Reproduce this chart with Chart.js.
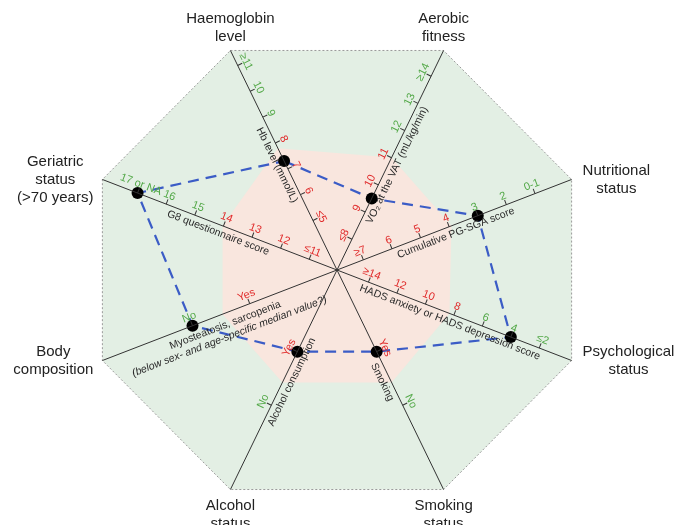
<!DOCTYPE html>
<html>
<head>
<meta charset="utf-8">
<script src="https://cdn.jsdelivr.net/npm/chart.js@4.4.1/dist/chart.umd.min.js"></script>
<style>
  html, body { margin: 0; padding: 0; background: #fff; }
</style>
</head>
<body>
<canvas id="graficaRadar" width="674" height="525"></canvas>
<script>
// ejes en sentido horario, empezando por Haemoglobin
const categorias = [
    ['Haemoglobin', 'level'], ['Aerobic', 'fitness'], ['Nutritional', 'status'],
    ['Psychological', 'status'], ['Smoking', 'status'], ['Alcohol', 'status'],
    ['Body', 'composition'], ['Geriatric', 'status', '(>70 years)']
];
const titulosEje = [
    ['Hb level (mmol/L)'], ['VO₂ at the VAT (mL/kg/min)'], ['Cumulative PG-SGA score'],
    ['HADS anxiety or HADS depression score'], ['Smoking'], ['Alcohol consumption'],
    ['Myosteatosis, sarcopenia', '(below sex- and age-specific median value?)'],
    ['G8 questionnaire score']
];

// etiquetas de cada eje, del centro hacia fuera
const ticksHb = ['≤5', '6', '7', '8', '9', '10', '≥11'];
const ticksVO2 = ['≤8', '9', '10', '11', '12', '13', '≥14'];
const ticksPGSGA = ['≥7', '6', '5', '4', '3', '2', '0-1'];
const ticksHADS = ['≥14', '12', '10', '8', '6', '4', '≤2'];
const ticksSmoking = ['Yes', 'No'];
const ticksAlcohol = ['Yes', 'No'];
const ticksBody = ['Yes', 'No'];
const ticksG8 = ['≤11', '12', '13', '14', '15', '16', '17 or NA'];
const ticksPorEje = [ticksHb, ticksVO2, ticksPGSGA, ticksHADS, ticksSmoking, ticksAlcohol, ticksBody, ticksG8];
// cuántas etiquetas de cada eje van en rojo (el resto en verde)
const ticksRojos = [4, 4, 4, 4, 1, 1, 1, 4];

// valores del paciente
const paciente = [7.3, 9.5, 3, 4, 'Yes', 'Yes', 'No', '17 or NA'];
// borde de la zona rosa, en unidades de la escala radial
const limiteNormal = [4.55, 4.2, 4.0, 3.93, 4.2, 4.2, 4.0, 4.0];

// geometría
const MAX_R = 8.2;
const ANGULOS = [-25.9, 25.9, 68.9, 111.1, 154.1, 205.9, 248.9, 291.1];
const ESCALA_EJE = [0.984, 0.984, 1.014, 1.014, 0.984, 0.984, 1.014, 1.014];
const POS_TICKS = [[1.85, 0.965], [1.15, 1.015], [0.92, 1.0], [1.1, 0.995], [3.05, 2.0], [3.05, 2.0], [3.05, 2.0], [0.97, 1.0]];
const ROJO = '#e02a2a';
const VERDE = '#52a847';
const FUENTE = '"Liberation Sans", Arial, sans-serif';

function posicionEnEje(i, valor) {
    const ticks = ticksPorEje[i];
    let idx = ticks.indexOf(String(valor));
    if (idx < 0) {
        const nums = ticks.map(t => parseFloat(t.replace(/[^0-9.]/g, '')));
        for (let k = 0; k < nums.length - 1; k++) {
            const a = nums[k], b = nums[k + 1];
            if ((valor - a) * (valor - b) <= 0) { idx = k + (valor - a) / (b - a); break; }
        }
    }
    return POS_TICKS[i][0] + idx * POS_TICKS[i][1];
}

// escala radial con ángulos propios por eje
class RadarOctogonal extends Chart.RadialLinearScale {
    getIndexAngle(index) {
        return ((ANGULOS[index] % 360 + 360) % 360) * Math.PI / 180;
    }
    getPointPosition(index, distance, extra = 0) {
        return super.getPointPosition(index, distance * ESCALA_EJE[index], extra);
    }
}
RadarOctogonal.id = 'radarOctogonal';
RadarOctogonal.defaults = Chart.RadialLinearScale.defaults;
Chart.register(RadarOctogonal);

const dibujoEjes = {
    id: 'dibujoEjes',
    beforeDraw(chart) {
        const r = chart.scales.r, ctx = chart.ctx;
        ctx.save();
        ctx.beginPath();
        categorias.forEach((c, i) => {
            const p = r.getPointPositionForValue(i, MAX_R);
            if (i) ctx.lineTo(p.x, p.y); else ctx.moveTo(p.x, p.y);
        });
        ctx.closePath();
        ctx.fillStyle = '#e3efe4';
        ctx.fill();
        ctx.restore();
    },
    afterDraw(chart) {
        const r = chart.scales.r, ctx = chart.ctx;
        ctx.save();
        for (let i = 0; i < categorias.length; i++) {
            const fuera = r.getPointPositionForValue(i, MAX_R);
            const dx = Math.cos(fuera.angle), dy = Math.sin(fuera.angle);
            const rot = dx < 0 ? Math.atan2(-dy, -dx) : Math.atan2(dy, dx);

            // marcas y etiquetas del eje
            ticksPorEje[i].forEach((t, k) => {
                const p = r.getPointPositionForValue(i, POS_TICKS[i][0] + k * POS_TICKS[i][1]);
                ctx.save();
                ctx.translate(p.x, p.y);
                ctx.rotate(rot);
                ctx.strokeStyle = '#333';
                ctx.lineWidth = 1;
                ctx.beginPath();
                ctx.moveTo(0, 0);
                ctx.lineTo(0, -5);
                ctx.stroke();
                ctx.fillStyle = k < ticksRojos[i] ? ROJO : VERDE;
                ctx.font = '11px ' + FUENTE;
                ctx.textAlign = 'center';
                ctx.textBaseline = 'alphabetic';
                ctx.fillText(t, 0, -6);
                ctx.restore();
            });

            // título sobre el eje
            const pt = r.getPointPositionForValue(i, 4.05);
            ctx.save();
            ctx.translate(pt.x, pt.y);
            ctx.rotate(rot);
            ctx.fillStyle = '#2a2a2a';
            ctx.textAlign = 'center';
            ctx.textBaseline = 'top';
            titulosEje[i].forEach((linea, n) => {
                ctx.font = (n > 0 ? 'italic ' : '') + '10.5px ' + FUENTE;
                ctx.fillText(linea, 0, (titulosEje[i].length > 1 ? 6 : 3) + n * 12);
            });
            ctx.restore();

            // nombre de la categoría
            const lineas = categorias[i];
            const lh = 18;
            ctx.font = '15px ' + FUENTE;
            ctx.fillStyle = '#222';
            ctx.textAlign = 'center';
            ctx.textBaseline = 'middle';
            const ancho = Math.max(...lineas.map(l => ctx.measureText(l).width));
            let cx, cy;
            if (Math.abs(dx) < 0.6) {
                cx = fuera.x;
                cy = dy < 0 ? fuera.y - 5 - lineas.length * lh / 2 : fuera.y + 7 + lineas.length * lh / 2;
            } else {
                cy = fuera.y;
                cx = dx > 0 ? fuera.x + 11 + ancho / 2 : fuera.x - 9 - ancho / 2;
            }
            lineas.forEach((l, n) => {
                ctx.fillText(l, cx, cy + (n - (lineas.length - 1) / 2) * lh);
            });
        }
        ctx.restore();
    }
};

const ctx = document.getElementById('graficaRadar').getContext('2d');
new Chart(ctx, {
    type: 'radar',
    data: {
        labels: categorias,
        datasets: [
            {
                label: 'Paciente',
                data: paciente.map((v, i) => posicionEnEje(i, v)),
                borderColor: '#3b5cc6',
                borderWidth: 2.2,
                borderDash: [11, 7],
                fill: false,
                pointRadius: 6,
                pointBackgroundColor: '#000',
                pointBorderWidth: 0
            },
            {
                label: 'Normal',
                data: limiteNormal,
                backgroundColor: '#f9e6de',
                borderWidth: 0,
                pointRadius: 0,
                fill: true
            }
        ]
    },
    options: {
        responsive: false,
        animation: false,
        layout: { padding: { top: 22, bottom: 7, left: 0, right: 0 } },
        plugins: { legend: { display: false }, tooltip: { enabled: false } },
        scales: {
            r: {
                type: 'radarOctogonal',
                min: 0,
                max: MAX_R,
                afterBuildTicks: s => { s.ticks = [{ value: 0 }, { value: MAX_R }]; },
                ticks: { display: false },
                pointLabels: { display: false },
                grid: { z: 1, color: '#9a9a9a', lineWidth: 1 },
                border: { dash: [2, 2] },
                angleLines: { color: '#333', lineWidth: 1 }
            }
        }
    },
    plugins: [dibujoEjes]
});
</script>
</body>
</html>
